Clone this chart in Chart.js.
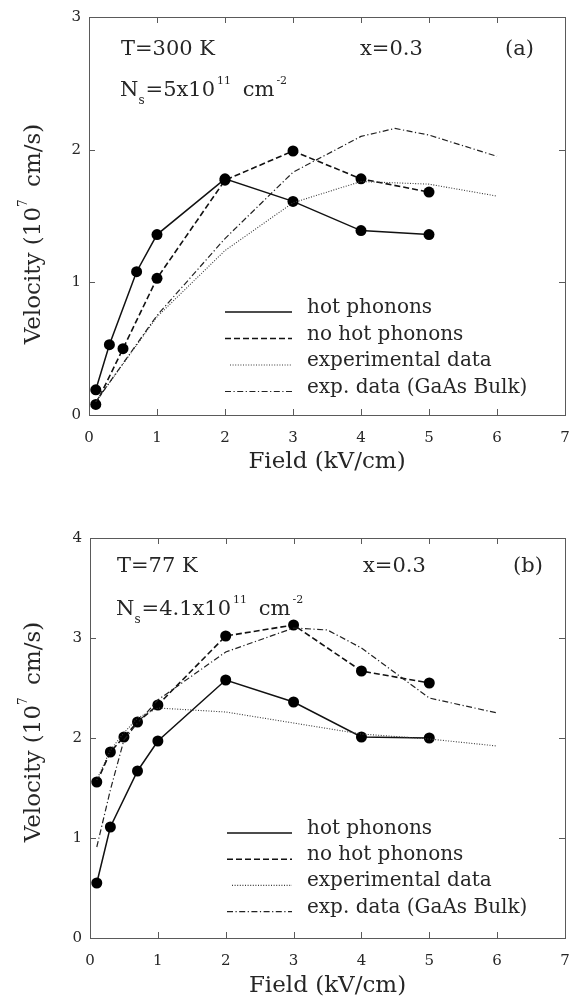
<!DOCTYPE html>
<html>
<head>
<meta charset="utf-8">
<script src="https://cdn.jsdelivr.net/npm/chart.js@4.4.1/dist/chart.umd.min.js"></script>
<style>
  html, body { margin: 0; padding: 0; background: #fff; }
  .panel { position: absolute; left: 0; width: 571px; height: 500px; }
  #panelA { top: 0; }
  #panelB { top: 500px; }
</style>
</head>
<body>
<div class="panel" id="panelA"><canvas id="chartA" width="571" height="500"></canvas></div>
<div class="panel" id="panelB"><canvas id="chartB" width="571" height="500"></canvas></div>
<script>
// ---- Panel (a): T = 300 K, x = 0.3, Ns = 5e11 cm^-2 ----
const fieldHotA   = [0.1, 0.3, 0.7, 1, 2, 3, 4, 5];
const hotA        = [0.19, 0.53, 1.08, 1.36, 1.78, 1.61, 1.39, 1.36];
const fieldNoHotA = [0.1, 0.5, 1, 2, 3, 4, 5];
const noHotA      = [0.08, 0.50, 1.03, 1.77, 1.99, 1.78, 1.68];
const fieldExpA   = [0.1, 1, 2, 3, 4, 5, 6];
const expA        = [0.10, 0.74, 1.24, 1.60, 1.76, 1.74, 1.65];
const fieldBulkA  = [0.1, 1, 2, 3, 4, 4.5, 5, 6];
const bulkA       = [0.10, 0.75, 1.33, 1.83, 2.10, 2.16, 2.11, 1.95];

// ---- Panel (b): T = 77 K, x = 0.3, Ns = 4.1e11 cm^-2 ----
const fieldHotB   = [0.1, 0.3, 0.7, 1, 2, 3, 4, 5];
const hotB        = [0.55, 1.11, 1.67, 1.97, 2.58, 2.36, 2.01, 2.00];
const fieldNoHotB = [0.1, 0.3, 0.5, 0.7, 1, 2, 3, 4, 5];
const noHotB      = [1.56, 1.86, 2.01, 2.16, 2.33, 3.02, 3.13, 2.67, 2.55];
const fieldExpB   = [0.1, 0.3, 0.5, 0.7, 1, 2, 3, 4, 5, 6];
const expB        = [1.58, 1.88, 2.05, 2.20, 2.30, 2.26, 2.15, 2.04, 1.99, 1.92];
const fieldBulkB  = [0.1, 0.3, 0.5, 0.7, 1, 2, 3, 3.5, 4, 5, 6];
const bulkB       = [0.91, 1.48, 1.98, 2.15, 2.38, 2.86, 3.10, 3.08, 2.90, 2.40, 2.25];

// ---- Axis ticks and labels ----
const fieldTicks     = [0, 1, 2, 3, 4, 5, 6, 7];
const velocityTicksA = [0, 1, 2, 3];
const velocityTicksB = [0, 1, 2, 3, 4];
const legendLabels   = ['hot phonons', 'no hot phonons', 'experimental data', 'exp. data (GaAs Bulk)'];

const SERIF = '"DejaVu Serif", "Liberation Serif", serif';
const INK = '#262626';
const FRAME = '#5a5a5a';

// line styles shared by plot and legend
const STYLES = [
  { dash: [],                 width: 1.5, color: '#111' },    // hot phonons
  { dash: [6, 3],             width: 1.6, color: '#111' },    // no hot phonons
  { dash: [1, 1.6],           width: 1.1, color: '#3a3a3a' }, // experimental data
  { dash: [6, 2.5, 1.2, 2.5], width: 1.2, color: '#222' }     // GaAs bulk
];

function pts(xs, ys) { return xs.map((x, i) => ({ x: x, y: ys[i] })); }

function makeDatasets(fh, h, fn, n, fe, e, fb, b) {
  const sets = [pts(fh, h), pts(fn, n), pts(fe, e), pts(fb, b)];
  return sets.map((data, i) => ({
    label: legendLabels[i],
    data: data,
    borderColor: STYLES[i].color,
    borderWidth: STYLES[i].width,
    borderDash: STYLES[i].dash,
    backgroundColor: '#000',
    pointBackgroundColor: '#000',
    pointBorderWidth: 0,
    pointRadius: i < 2 ? 5.5 : 0,
    tension: 0,
    fill: false,
    order: 4 - i
  }));
}

// draws text runs with superscripts / subscripts
function drawRich(ctx, runs, x, y, size) {
  let cx = x;
  runs.forEach(r => {
    let fs = size, dy = 0;
    if (r.sup) { fs = Math.round(size * 0.5); dy = -size * 0.55; }
    if (r.sub) { fs = Math.round(size * 0.55); dy = size * 0.38; }
    ctx.font = fs + 'px ' + SERIF;
    ctx.fillText(r.t, cx, y + dy);
    cx += ctx.measureText(r.t).width + (r.gap || 0);
  });
  return cx;
}

function richWidth(ctx, runs, size) {
  let w = 0;
  runs.forEach(r => {
    let fs = size;
    if (r.sup) fs = Math.round(size * 0.5);
    if (r.sub) fs = Math.round(size * 0.55);
    ctx.font = fs + 'px ' + SERIF;
    w += ctx.measureText(r.t).width + (r.gap || 0);
  });
  return w;
}

// frame, inward ticks, annotations, axis titles and the legend
const decorations = {
  id: 'decorations',
  afterDraw(chart, args, opts) {
    const ctx = chart.ctx;
    const a = chart.chartArea;
    const xs = chart.scales.x, ys = chart.scales.y;
    ctx.save();

    // frame
    ctx.strokeStyle = FRAME;
    ctx.lineWidth = 1;
    ctx.setLineDash([]);
    ctx.strokeRect(Math.round(a.left) + 0.5, Math.round(a.top) + 0.5,
                   Math.round(a.right - a.left), Math.round(a.bottom - a.top));

    // inward ticks on all four sides
    const T = 6;
    ctx.beginPath();
    xs.ticks.forEach(t => {
      const px = Math.round(xs.getPixelForValue(t.value)) + 0.5;
      ctx.moveTo(px, a.bottom); ctx.lineTo(px, a.bottom - T);
      ctx.moveTo(px, a.top);    ctx.lineTo(px, a.top + T);
    });
    ys.ticks.forEach(t => {
      const py = Math.round(ys.getPixelForValue(t.value)) + 0.5;
      ctx.moveTo(a.left, py);  ctx.lineTo(a.left + T, py);
      ctx.moveTo(a.right, py); ctx.lineTo(a.right - T, py);
    });
    ctx.stroke();

    ctx.fillStyle = INK;
    ctx.textBaseline = 'alphabetic';
    ctx.textAlign = 'left';

    // panel annotations
    const size = 21;
    ctx.font = size + 'px ' + SERIF;
    ctx.fillText(opts.temp, opts.annX, opts.annY);
    ctx.fillText('x=0.3', opts.compX, opts.annY);
    ctx.fillText(opts.tag, opts.tagX, opts.annY);
    drawRich(ctx, [
      { t: 'N' }, { t: 's', sub: true, gap: 1 }, { t: opts.density, gap: 2 },
      { t: '11', sup: true, gap: 5 }, { t: ' cm', gap: 2 }, { t: '-2', sup: true }
    ], opts.annX - 1, opts.nsY, size);

    // x-axis title
    ctx.font = '23px ' + SERIF;
    ctx.textAlign = 'center';
    ctx.fillText('Field (kV/cm)', (a.left + a.right) / 2, opts.xTitleY);

    // y-axis title (rotated)
    ctx.save();
    ctx.translate(opts.yTitleX, opts.yTitleCY);
    ctx.rotate(-Math.PI / 2);
    ctx.textAlign = 'left';
    const yRuns = [{ t: 'Velocity (10' }, { t: '7', sup: true, gap: 5 }, { t: ' cm/s)' }];
    const w = richWidth(ctx, yRuns, 23);
    drawRich(ctx, yRuns, -w / 2, 0, 23);
    ctx.restore();

    // legend
    ctx.textAlign = 'left';
    ctx.font = '20px ' + SERIF;
    legendLabels.forEach((lab, i) => {
      const ly = opts.legendY + i * opts.legendStep;
      const st = STYLES[i];
      ctx.beginPath();
      ctx.strokeStyle = st.color;
      ctx.lineWidth = st.width;
      ctx.setLineDash(st.dash);
      const x0 = i === 2 ? opts.legendX0 + 5 : opts.legendX0;
      ctx.moveTo(x0, ly); ctx.lineTo(opts.legendX1, ly);
      ctx.stroke();
      ctx.setLineDash([]);
      ctx.fillText(lab, opts.legendTextX, ly + 1);
    });

    ctx.restore();
  }
};

function buildChart(id, datasets, yMax, yTicks, geom, deco) {
  return new Chart(document.getElementById(id), {
    type: 'line',
    data: { datasets: datasets },
    options: {
      responsive: false,
      animation: false,
      events: [],
      layout: { padding: { left: 0, right: 6, top: geom.top, bottom: 0 } },
      plugins: {
        legend: { display: false },
        tooltip: { enabled: false },
        decorations: deco
      },
      scales: {
        x: {
          type: 'linear', min: 0, max: 7,
          grid: { display: false, drawTicks: false },
          border: { display: false },
          afterBuildTicks: s => { s.ticks = fieldTicks.map(v => ({ value: v })); },
          ticks: { color: INK, font: { family: SERIF, size: 15 }, padding: 14, maxRotation: 0, autoSkip: false },
          afterFit: s => { s.height = geom.xHeight; s.paddingLeft = 0; s.paddingRight = 0; }
        },
        y: {
          type: 'linear', min: 0, max: yMax,
          grid: { display: false, drawTicks: false },
          border: { display: false },
          afterBuildTicks: s => { s.ticks = yTicks.map(v => ({ value: v })); },
          ticks: { color: INK, font: { family: SERIF, size: 15 }, padding: 8 },
          afterFit: s => { s.width = geom.left; s.paddingTop = 0; s.paddingBottom = 0; }
        }
      }
    },
    plugins: [decorations]
  });
}

buildChart('chartA',
  makeDatasets(fieldHotA, hotA, fieldNoHotA, noHotA, fieldExpA, expA, fieldBulkA, bulkA),
  3, velocityTicksA,
  { top: 17, xHeight: 85, left: 89 },
  { temp: 'T=300 K', density: '=5x10', tag: '(a)',
    annX: 121, annY: 55, compX: 360, tagX: 505, nsY: 96,
    xTitleY: 468, yTitleX: 40, yTitleCY: 234,
    legendX0: 225, legendX1: 292, legendTextX: 307, legendY: 312, legendStep: 26.5 });

buildChart('chartB',
  makeDatasets(fieldHotB, hotB, fieldNoHotB, noHotB, fieldExpB, expB, fieldBulkB, bulkB),
  4, velocityTicksB,
  { top: 38, xHeight: 62, left: 90 },
  { temp: 'T=77 K', density: '=4.1x10', tag: '(b)',
    annX: 117, annY: 72, compX: 363, tagX: 513, nsY: 115,
    xTitleY: 492, yTitleX: 40, yTitleCY: 232,
    legendX0: 227, legendX1: 292, legendTextX: 307, legendY: 333, legendStep: 26.2 });
</script>
</body>
</html>
